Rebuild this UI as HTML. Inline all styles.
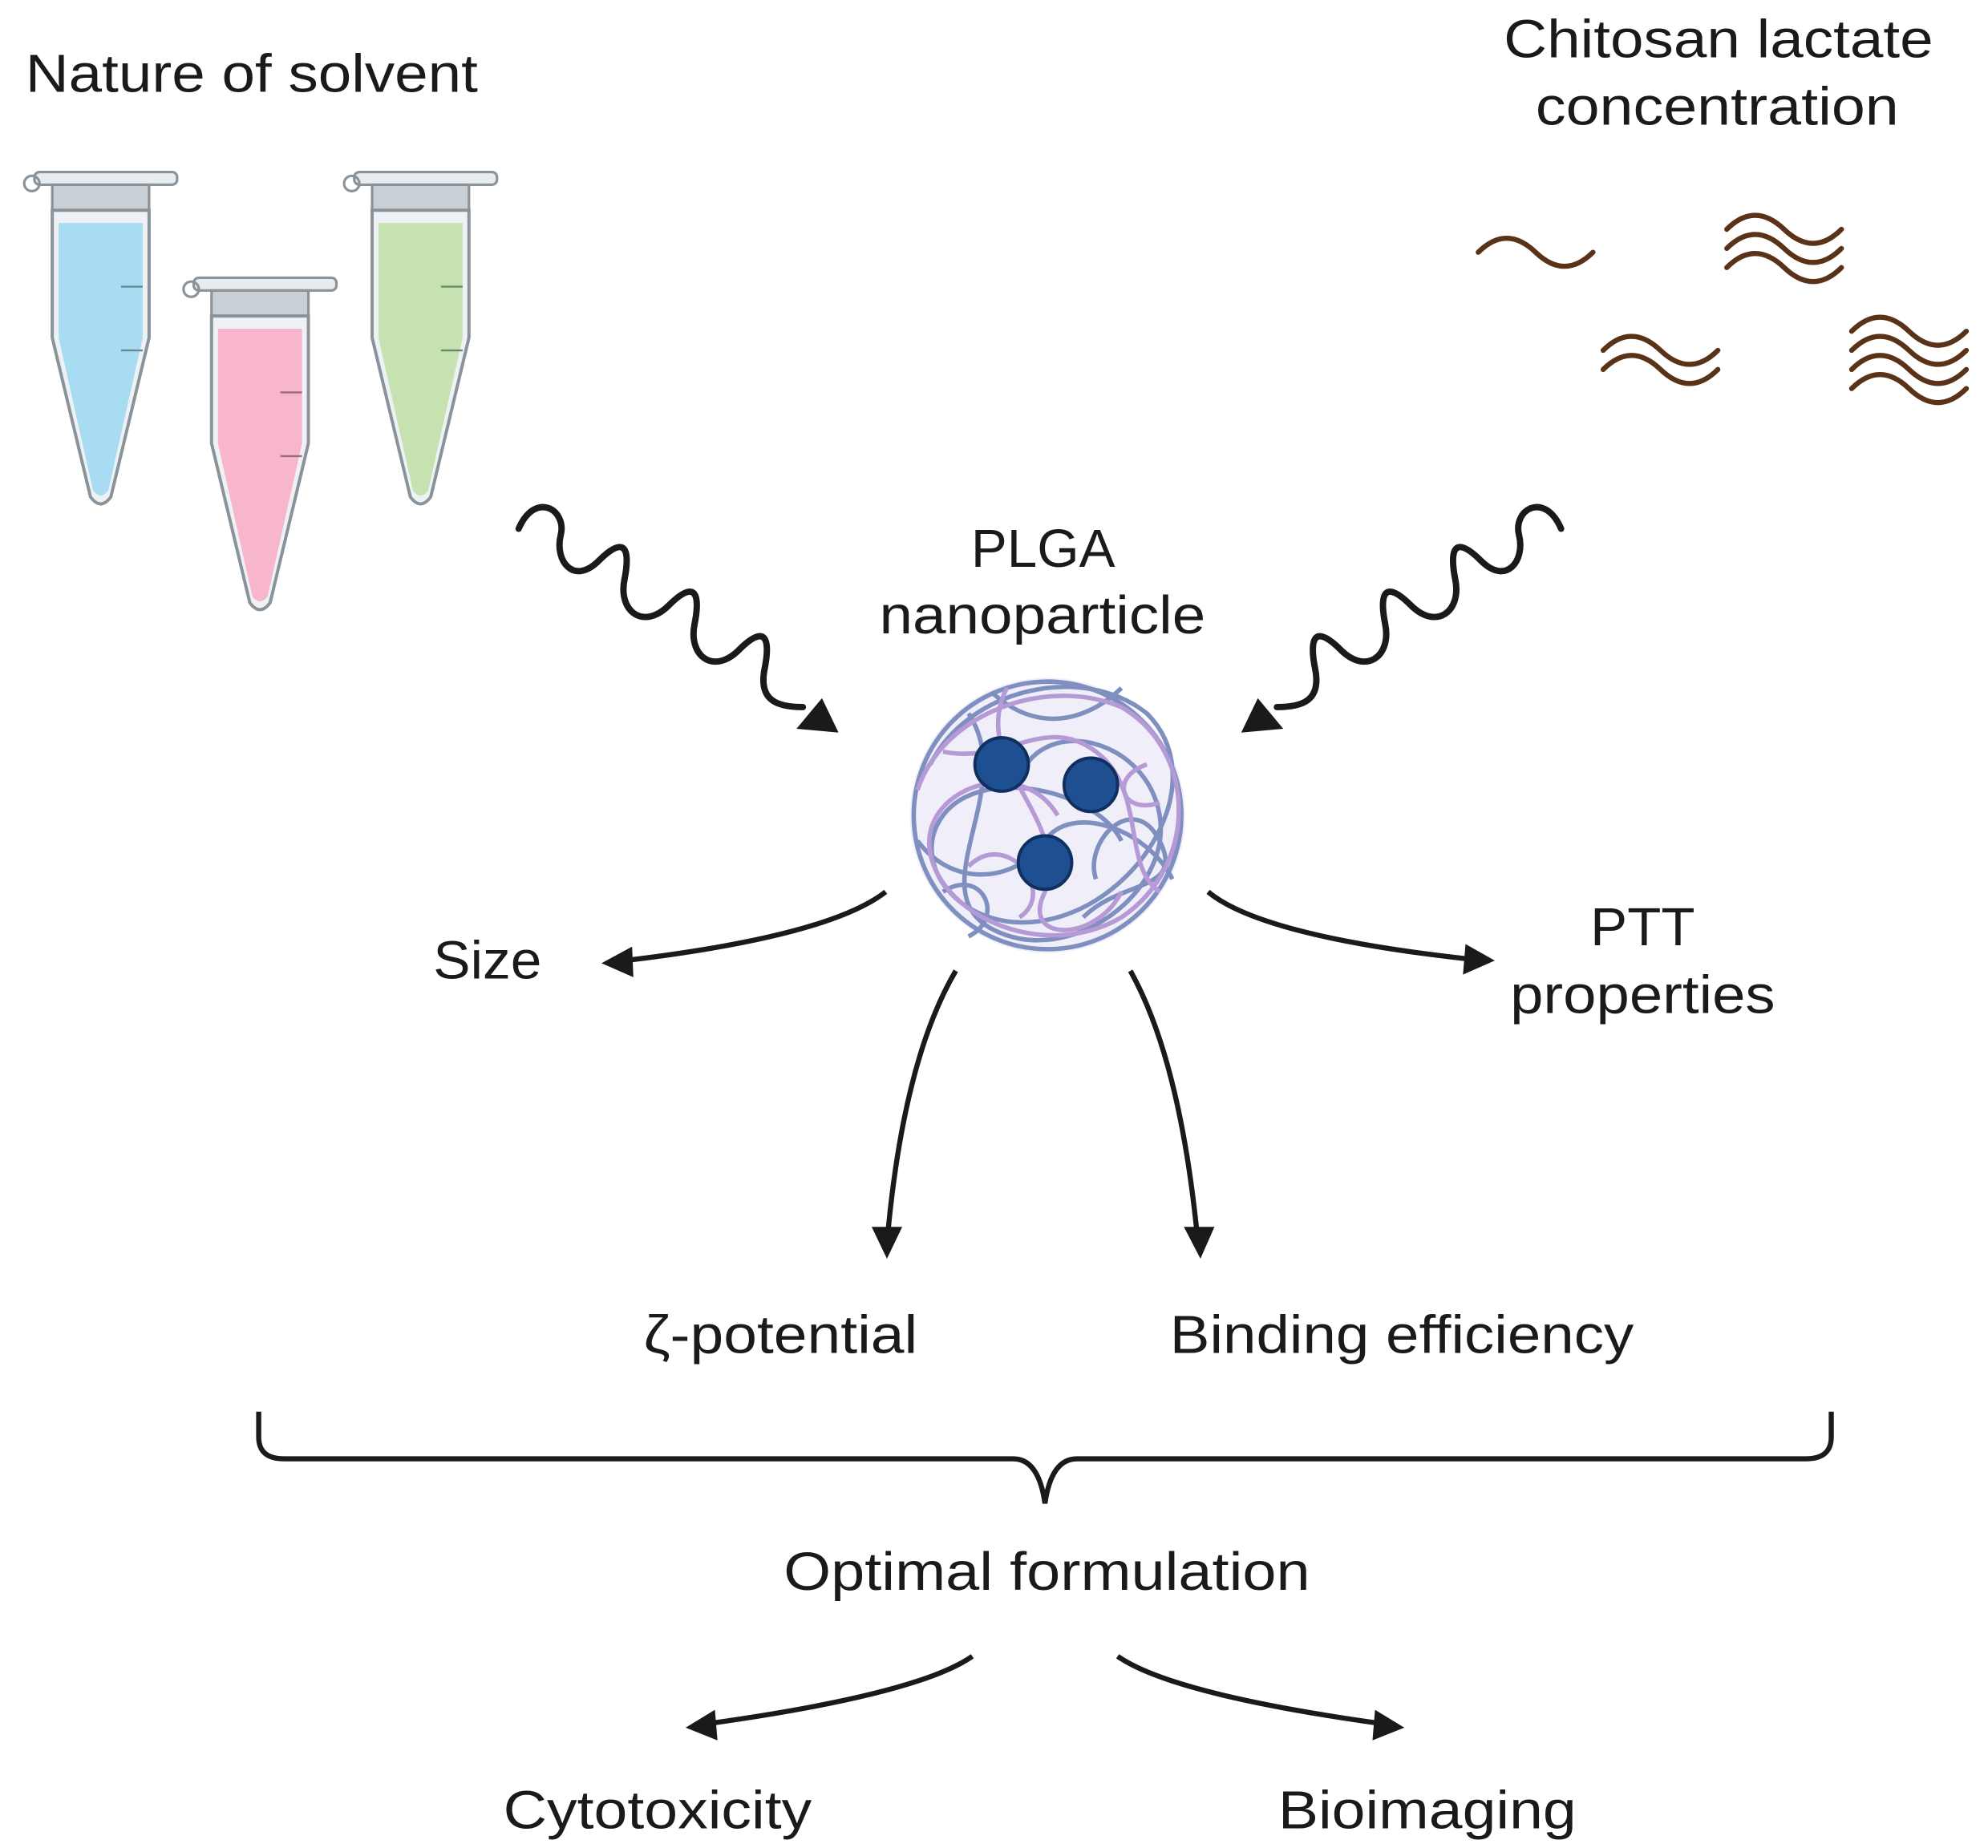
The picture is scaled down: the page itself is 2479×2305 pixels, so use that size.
<!DOCTYPE html>
<html><head><meta charset="utf-8"><style>
html,body{margin:0;padding:0;background:#fff;}
svg{display:block}
text{font-family:"Liberation Sans",sans-serif;fill:#1a1a1a;}
</style></head><body>
<svg width="2479" height="2305" viewBox="0 0 1560 1450.5" preserveAspectRatio="none" xmlns="http://www.w3.org/2000/svg">
<defs>
<g id="tube">
  <rect x="-52" y="0" width="112" height="10" rx="4" fill="#e8ecef" stroke="#8a9399" stroke-width="2"/>
  <circle cx="-54" cy="9" r="6" fill="none" stroke="#8a9399" stroke-width="2"/>
  <rect x="-38" y="10" width="76" height="20" fill="#c9d0d5" stroke="#8a9399" stroke-width="2"/>
  <path d="M-38 30 L38 30 L38 130 L8 255 Q0 266 -8 255 L-38 130 Z" fill="#eef2f4" stroke="#8a9399" stroke-width="2.5"/>
</g>
</defs>
<style>text{font-size:42px}</style>
<text x="20" y="72" textLength="355" lengthAdjust="spacingAndGlyphs">Nature of solvent</text>
<text x="1180" y="45" textLength="337" lengthAdjust="spacingAndGlyphs">Chitosan lactate</text>
<text x="1205" y="98" textLength="285" lengthAdjust="spacingAndGlyphs">concentration</text>
<text x="762" y="445" textLength="113" lengthAdjust="spacingAndGlyphs">PLGA</text>
<text x="690" y="497" textLength="256" lengthAdjust="spacingAndGlyphs">nanoparticle</text>
<text x="340" y="768" textLength="85" lengthAdjust="spacingAndGlyphs">Size</text>
<text x="1248" y="742" textLength="82" lengthAdjust="spacingAndGlyphs">PTT</text>
<text x="1185" y="795" textLength="208" lengthAdjust="spacingAndGlyphs">properties</text>
<text x="505" y="1062" textLength="215" lengthAdjust="spacingAndGlyphs">ζ-potential</text>
<text x="918" y="1062" textLength="364" lengthAdjust="spacingAndGlyphs">Binding efficiency</text>
<text x="615" y="1248" textLength="413" lengthAdjust="spacingAndGlyphs">Optimal formulation</text>
<text x="395" y="1435" textLength="242" lengthAdjust="spacingAndGlyphs">Cytotoxicity</text>
<text x="1003" y="1435" textLength="234" lengthAdjust="spacingAndGlyphs">Bioimaging</text>

<g transform="translate(79,135)"><use href="#tube"/><path d="M-33 40 L33 40 L33 130 L6 250 Q0 258 -6 250 L-33 130 Z" fill="#a8dcf2"/><path d="M16 90h17M16 140h17" stroke="#6a8a9a" stroke-width="1.5"/></g>
<g transform="translate(204,218)"><use href="#tube"/><path d="M-33 40 L33 40 L33 130 L6 250 Q0 258 -6 250 L-33 130 Z" fill="#f7b6cc"/><path d="M16 90h17M16 140h17" stroke="#9a6a7a" stroke-width="1.5"/></g>
<g transform="translate(330,135)"><use href="#tube"/><path d="M-33 40 L33 40 L33 130 L6 250 Q0 258 -6 250 L-33 130 Z" fill="#c5e2b0"/><path d="M16 90h17M16 140h17" stroke="#6a8a6a" stroke-width="1.5"/></g>

<g fill="none" stroke="#5a3218" stroke-width="4" stroke-linecap="round">
<path d="M1160 198 q22 -22 45 0 t45 0"/>
<path d="M1355 180 q22 -22 45 0 t45 0"/><path d="M1355 195 q22 -22 45 0 t45 0"/><path d="M1355 210 q22 -22 45 0 t45 0"/>
<path d="M1258 275 q22 -22 45 0 t45 0"/><path d="M1258 290 q22 -22 45 0 t45 0"/>
<path d="M1453 260 q22 -22 45 0 t45 0"/><path d="M1453 275 q22 -22 45 0 t45 0"/><path d="M1453 290 q22 -22 45 0 t45 0"/><path d="M1453 305 q22 -22 45 0 t45 0"/>
</g>

<g fill="none" stroke="#1a1a1a" stroke-width="5" stroke-linecap="round">
<path d="M407 415 C420 385 445 400 440 420 S450 460 470 440 S495 430 490 455 S505 495 525 475 S550 465 545 490 S560 530 580 510 S605 500 600 525 S610 555 630 555"/>
<path d="M1225 415 C1212 385 1187 400 1192 420 S1182 460 1162 440 S1137 430 1142 455 S1127 495 1107 475 S1082 465 1087 490 S1072 530 1052 510 S1027 500 1032 525 S1022 555 1002 555"/>
</g>
<polygon points="658,575 625,572 645,548" fill="#1a1a1a"/>
<polygon points="974,575 1007,572 987,548" fill="#1a1a1a"/>

<circle cx="822" cy="640" r="108" fill="#f0eef9"/>
<g fill="none" stroke-width="3.5">
<g stroke="#7f8fc0">
<path d="M730 600 C760 540 850 520 900 560 C950 610 900 700 830 720 C760 740 710 680 740 640 C770 600 860 620 880 660"/>
<path d="M760 560 C800 620 720 700 780 730 C840 760 920 700 910 640 C900 580 820 560 800 610"/>
<path d="M720 660 C750 700 800 690 820 660 C840 630 900 650 920 690"/>
<path d="M780 545 C820 580 860 560 880 540 M740 700 C770 680 790 720 760 735"/>
<path d="M850 720 C880 690 930 700 910 660 C890 620 850 660 860 690"/>
<circle cx="822" cy="640" r="105"/>
</g>
<g stroke="#b69ad6">
<path d="M720 620 C740 560 820 530 880 555 C940 590 940 680 880 720 C820 755 740 720 730 670 C720 620 800 590 830 640"/>
<path d="M790 540 C760 600 840 640 820 700 C800 740 860 740 880 700"/>
<path d="M740 590 C790 600 820 560 860 590 C900 620 880 680 910 700"/>
<path d="M760 680 C790 650 830 700 800 720 M900 600 C870 610 880 640 910 630"/>
</g>
</g>
<circle cx="786" cy="600" r="21" fill="#1d4f91" stroke="#0f2f60" stroke-width="2.5"/>
<circle cx="856" cy="616" r="21" fill="#1d4f91" stroke="#0f2f60" stroke-width="2.5"/>
<circle cx="820" cy="677" r="21" fill="#1d4f91" stroke="#0f2f60" stroke-width="2.5"/>

<g fill="none" stroke="#1a1a1a" stroke-width="4">
<path d="M695 700 Q650 735 490 754"/>
<path d="M948 700 Q990 735 1155 753"/>
<path d="M750 762 Q710 830 697 965"/>
<path d="M887 762 Q925 830 939 965"/>
<path d="M763 1300 Q720 1330 555 1353"/>
<path d="M877 1300 Q920 1330 1085 1353"/>
<path d="M203 1108 L203 1128 Q203 1145 223 1145 L795 1145 Q815 1145 820 1180 Q825 1145 845 1145 L1417 1145 Q1437 1145 1437 1128 L1437 1108"/>
</g>
<g fill="#1a1a1a">
<polygon points="472,756 496,743 497,767"/>
<polygon points="1173,754 1150,741 1148,765"/>
<polygon points="696,988 684,963 708,963"/>
<polygon points="942,988 929,963 953,963"/>
<polygon points="538,1356 561,1342 563,1366"/>
<polygon points="1102,1356 1079,1342 1077,1366"/>
</g>
</svg>
</body></html>
